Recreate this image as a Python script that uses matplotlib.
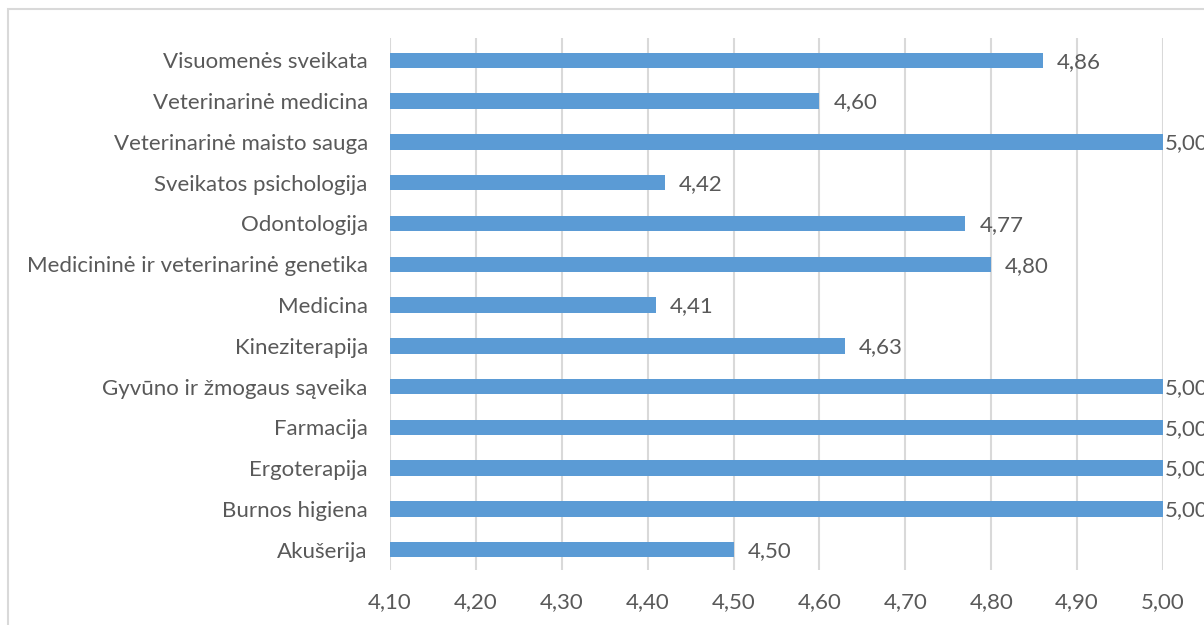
import matplotlib.pyplot as plt
from matplotlib.patches import Rectangle

# Study programmes, listed bottom to top as drawn
programmes = ["Akušerija", "Burnos higiena", "Ergoterapija", "Farmacija",
              "Gyvūno ir žmogaus sąveika", "Kineziterapija", "Medicina",
              "Medicininė ir veterinarinė genetika", "Odontologija",
              "Sveikatos psichologija", "Veterinarinė maisto sauga",
              "Veterinarinė medicina", "Visuomenės sveikata"]
scores = [4.50, 5.00, 5.00, 5.00, 5.00, 4.63, 4.41, 4.80, 4.77, 4.42, 5.00, 4.60, 4.86]
x_ticks = [4.10, 4.20, 4.30, 4.40, 4.50, 4.60, 4.70, 4.80, 4.90, 5.00]

bar_color = "#5B9BD5"
text_color = "#595959"
grid_color = "#D9D9D9"

plt.rcParams['font.family'] = ['Lato', 'DejaVu Sans']
fsize = 16

fig = plt.figure(figsize=(12.04, 6.25), dpi=100)
# light chart-area border, running off the right and bottom edges
fig.patches.append(Rectangle((8 / 1204, -0.1), 1.2, 1 - 9 / 625 + 0.1,
                             transform=fig.transFigure, fill=False,
                             edgecolor=grid_color, linewidth=1.5))

ax = fig.add_axes([390 / 1204, 1 - 570 / 625, (1163 - 390) / 1204, (570 - 38) / 625])

ypos = range(len(programmes))
ax.barh(ypos, [s - 4.10 for s in scores], left=4.10, height=0.38,
        color=bar_color, zorder=3)

for y, s in zip(ypos, scores):
    label = f"{s:.2f}".replace(".", ",")
    offset = 1.5 if s >= 5.0 else 10
    ax.annotate(label, xy=(s, y), xytext=(offset, -1), textcoords="offset points",
                ha="left", va="center", fontsize=fsize, color=text_color,
                annotation_clip=False)

ax.set_xlim(4.10, 5.00)
ax.set_ylim(-0.5, len(programmes) - 0.45)
ax.set_xticks(x_ticks)
ax.set_xticklabels([f"{t:.2f}".replace(".", ",") for t in x_ticks])
ax.set_yticks(list(ypos))
ax.set_yticklabels(programmes)
ax.tick_params(axis="both", length=0, labelsize=fsize, labelcolor=text_color)
ax.tick_params(axis="x", pad=16)
ax.tick_params(axis="y", pad=16)
ax.grid(axis="x", color=grid_color, linewidth=1.5, zorder=0)
for sp in ax.spines.values():
    sp.set_visible(False)

fig.savefig("out.png", dpi=100)
